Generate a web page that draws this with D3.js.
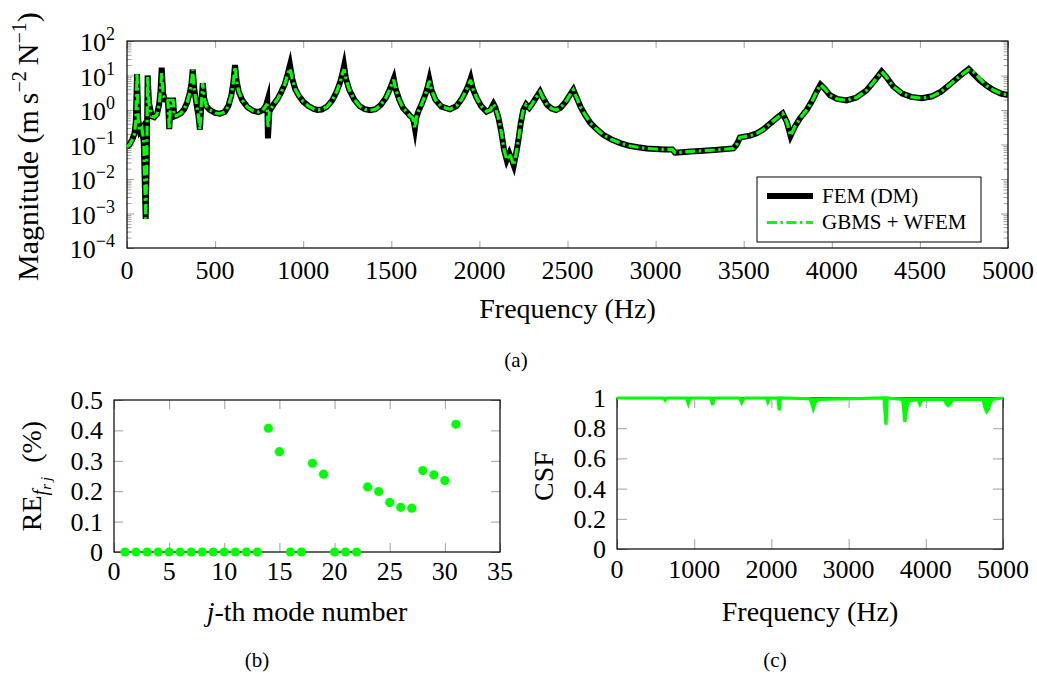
<!DOCTYPE html>
<html><head><meta charset="utf-8">
<script src="https://cdn.jsdelivr.net/npm/d3@7"></script>
<style>
body{margin:0;background:#fff;}
</style></head><body>
<svg id="c" width="1037" height="677" font-family="'Liberation Serif', 'DejaVu Serif', serif"></svg>
<script>
// ---------- data ----------
const frfFreq = [0,15,30,42,50,57,64,74,85,95,106,112,117,125,140,155,170,182,190,197,205,214,232,240,248,262,268,285,305,325,342,357,366,373,382,395,405,414,422,430,438,450,470,500,528,555,575,592,604,613,622,635,655,685,715,745,770,788,796,800,808,830,855,875,895,912,925,938,955,975,1000,1030,1060,1080,1105,1135,1165,1190,1210,1222,1232,1243,1262,1290,1320,1350,1380,1410,1440,1468,1490,1505,1514,1524,1545,1566,1590,1606,1620,1628,1634,1642,1655,1675,1695,1708,1716,1728,1750,1785,1833,1870,1900,1925,1940,1950,1962,1985,2010,2041,2062,2080,2090,2108,2125,2140,2155,2170,2185,2195,2210,2221,2235,2249,2265,2283,2300,2322,2344,2360,2385,2410,2435,2460,2490,2515,2533,2550,2575,2600,2630,2665,2703,2750,2800,2850,2900,2950,3000,3050,3095,3110,3150,3200,3271,3350,3441,3460,3479,3536,3574,3610,3649,3690,3721,3745,3766,3790,3820,3857,3890,3915,3936,3960,3989,4030,4084,4140,4197,4240,4283,4310,4349,4400,4450,4510,4570,4620,4670,4725,4777,4805,4841,4880,4917,4960,5000];
const femMag = [0.085,0.1,0.14,0.2,0.45,11,0.5,0.25,0.3,0.12,0.0007,0.03,10,1.6,0.66,0.62,0.75,1.4,3.5,17,3,2.0,1.9,0.28,1.9,1.9,0.65,0.7,0.8,1.05,1.7,3.2,6,15,4,1.4,0.7,0.27,1.5,6,2.2,1.3,1.0,0.82,0.78,0.88,1.3,2.6,6.5,20,7,3.3,1.9,1.2,0.95,0.87,0.98,1.3,1.8,0.15,0.9,1.4,2.1,3.3,5.5,11,20,8,4,2.6,1.75,1.3,1.07,1.0,1.03,1.25,1.9,3.4,6.5,11,19,8,3.8,2,1.3,1.05,0.98,1.05,1.4,2.2,3.8,6,8,4.2,2.0,1.15,0.85,0.68,0.6,0.45,0.3,0.6,0.95,1.6,3,5,7.5,3.8,2,1.25,1.05,1.3,2.1,3.7,5.6,8,4.2,2.2,1.3,0.9,1.0,1.5,1.2,0.6,0.22,0.07,0.036,0.055,0.035,0.025,0.06,0.13,0.42,1.0,1.45,1.15,1.5,2.3,3.4,2.3,1.4,1.1,1.0,1.15,1.75,2.8,3.9,2.4,1.2,0.72,0.42,0.28,0.19,0.14,0.11,0.092,0.083,0.077,0.074,0.072,0.072,0.058,0.06,0.063,0.066,0.07,0.077,0.1,0.16,0.18,0.21,0.27,0.4,0.6,0.8,0.45,0.18,0.33,0.58,1.0,1.9,3.5,5.4,4.1,2.7,2.1,1.9,2.3,3.7,6.8,13,9,4.8,3,2.4,2.2,2.5,3.4,5.5,9.5,15.5,11,7.2,5,3.8,3.0,2.7];
const wfemMag = [0.085,0.1,0.14,0.2,0.45,12,0.5,0.25,0.3,0.12,0.0007,0.03,9,1.6,0.66,0.62,0.75,1.4,3.5,12,3,2.0,1.9,0.28,1.9,1.9,0.65,0.7,0.8,1.05,1.7,3.2,6,15,4,1.4,0.7,0.27,1.5,6,2.2,1.3,1.0,0.82,0.78,0.88,1.3,2.6,6.5,18,7,3.3,1.9,1.2,0.95,0.87,0.98,1.3,1.5,0.3,0.9,1.4,2.1,3.3,5.5,11,16,8,4,2.6,1.75,1.3,1.07,1.0,1.03,1.25,1.9,3.4,6.5,11,15,8,3.8,2,1.3,1.05,0.98,1.05,1.4,2.2,3.8,6,7.5,4.2,2.0,1.15,0.85,0.68,0.6,0.45,0.3,0.6,0.95,1.6,3,5,7,3.8,2,1.25,1.05,1.3,2.1,3.7,5.6,7.5,4.2,2.2,1.3,0.9,1.0,1.5,1.2,0.6,0.22,0.07,0.036,0.055,0.035,0.025,0.06,0.13,0.42,1.0,1.45,1.15,1.5,2.3,3.4,2.3,1.4,1.1,1.0,1.15,1.75,2.8,3.9,2.4,1.2,0.72,0.42,0.28,0.19,0.14,0.11,0.092,0.083,0.077,0.074,0.072,0.072,0.058,0.06,0.063,0.066,0.07,0.077,0.1,0.16,0.18,0.21,0.27,0.4,0.6,0.8,0.45,0.18,0.33,0.58,1.0,1.9,3.5,5.4,4.1,2.7,2.1,1.9,2.3,3.7,6.8,13,9,4.8,3,2.4,2.2,2.5,3.4,5.5,9.5,15,12.5,8,5,3.8,3.0,2.7];

const modeNumbers = [1,2,3,4,5,6,7,8,9,10,11,12,13,14,15,16,17,18,19,20,21,22,23,24,25,26,27,28,29,30,31];
const relError = [0,0,0,0,0,0,0,0,0,0,0,0,0,0.407,0.330,0,0,0.292,0.256,0,0,0,0.214,0.199,0.163,0.147,0.144,0.268,0.254,0.235,0.420];

const csfFreq = [0,600,622,640,900,924,945,1215,1239,1260,1590,1615,1635,1650,1940,1955,1975,2085,2102,2115,2500,2525,2543,2565,2600,3460,3484,3500,3700,3730,3750,3780,3900,3924,3950,4240,4270,4291,4320,4350,4740,4770,4788,4810,4830,4860,5000];
const csfVals = [1,1,0.985,1,1,0.963,1,1,0.955,1,1,0.97,0.99,1,1,0.975,1,1,0.918,1,0.995,0.96,0.93,0.965,0.99,1,0.824,1,0.99,0.84,0.93,0.98,0.99,0.96,0.99,0.99,0.96,0.95,0.965,0.99,0.99,0.93,0.91,0.925,0.96,0.99,1];

const topXTicks = [0,500,1000,1500,2000,2500,3000,3500,4000,4500,5000];
const topYExps = [-4,-3,-2,-1,0,1,2];
const bXTicks = [0,5,10,15,20,25,30,35];
const bYTicks = [0,0.1,0.2,0.3,0.4,0.5];
const cXTicks = [0,1000,2000,3000,4000,5000];
const cYTicks = [0,0.2,0.4,0.6,0.8,1];
const legendLabels = ["FEM (DM)","GBMS + WFEM"];

// ---------- drawing ----------
const svg = d3.select('#c');
const GREEN = '#00ff00', TICK = '#a0a0a0';
const minus = s => String(s).replace('-', '\u2212');

function ticksInside(g, scale, vals, orient, pos, len){
  let ax;
  if(orient==='bottom') ax = d3.axisBottom(scale);
  if(orient==='top') ax = d3.axisTop(scale);
  if(orient==='left') ax = d3.axisLeft(scale);
  if(orient==='right') ax = d3.axisRight(scale);
  const tr = (orient==='bottom'||orient==='top') ? `translate(0,${pos})` : `translate(${pos},0)`;
  const a = g.append('g').attr('transform', tr)
    .call(ax.tickValues(vals).tickSize(-len).tickFormat(''));
  a.select('.domain').remove();
  a.selectAll('.tick line').attr('stroke', TICK).attr('stroke-width', 1);
  a.selectAll('.tick text').remove();
}

// ===== Panel (a) =====
{
  const L=127,R=1008,T=41,B=248;
  const x = d3.scaleLinear().domain([0,5000]).range([L,R]);
  const y = d3.scaleLog().domain([1e-4,1e2]).range([B,T]);
  const g = svg.append('g');
  const majors = topYExps.map(e => Math.pow(10,e));
  const minors = y.ticks().filter(d => Math.abs(Math.log10(d)-Math.round(Math.log10(d)))>1e-6);
  ticksInside(g, x, topXTicks, 'bottom', B, 7);
  ticksInside(g, x, topXTicks, 'top', T, 7);
  ticksInside(g, y, majors, 'left', L, 7);
  ticksInside(g, y, majors, 'right', R, 7);
  ticksInside(g, y, minors, 'left', L, 4.5);
  ticksInside(g, y, minors, 'right', R, 4.5);
  g.append('rect').attr('x',L).attr('y',T).attr('width',R-L).attr('height',B-T)
    .attr('fill','none').attr('stroke','#000').attr('stroke-width',1.2);

  // tick labels
  g.selectAll('.xl').data(topXTicks).join('text')
    .attr('x', d=>x(d)).attr('y', B+30.5).attr('text-anchor','middle')
    .attr('font-size',26).text(d=>String(d));
  const yl = g.selectAll('.yl').data(topYExps).join('text')
    .attr('x', L-12).attr('y', d=>y(Math.pow(10,d))+10).attr('text-anchor','end')
    .attr('font-size',26);
  yl.append('tspan').text('10');
  yl.append('tspan').attr('dy',-11).attr('font-size',18).text(d=>minus(d));

  // curves
  svg.append('clipPath').attr('id','clipA').append('rect')
    .attr('x',L).attr('y',T-2).attr('width',R-L).attr('height',B-T+4);
  const line = d3.line().x(d=>x(d[0])).y(d=>y(d[1]));
  const pg = svg.append('g').attr('clip-path','url(#clipA)');
  pg.append('path').datum(d3.zip(frfFreq, femMag)).attr('d', line)
    .attr('fill','none').attr('stroke','#000').attr('stroke-width',6)
    .attr('stroke-linejoin','miter').attr('stroke-miterlimit',10);
  pg.append('path').datum(d3.zip(frfFreq, wfemMag)).attr('d', line)
    .attr('fill','none').attr('stroke',GREEN).attr('stroke-width',3.2)
    .attr('stroke-dasharray','10,3.5,2.5,3.5')
    .attr('stroke-linejoin','miter').attr('stroke-miterlimit',3);

  // legend
  const lg = svg.append('g');
  lg.append('rect').attr('x',757).attr('y',177).attr('width',224).attr('height',65)
    .attr('fill','#fff').attr('stroke','#000').attr('stroke-width',1);
  const ly = [196, 222.5];
  lg.append('line').attr('x1',767).attr('x2',813).attr('y1',ly[0]).attr('y2',ly[0])
    .attr('stroke','#000').attr('stroke-width',6);
  lg.append('line').attr('x1',767).attr('x2',813).attr('y1',ly[1]).attr('y2',ly[1])
    .attr('stroke',GREEN).attr('stroke-width',3.2).attr('stroke-dasharray','10,3.5,2.5,3.5');
  lg.selectAll('.lt').data(legendLabels).join('text')
    .attr('x',822).attr('y',(d,i)=>ly[i]+6.5).attr('font-size',21).text(d=>d);

  // axis labels
  svg.append('text').attr('x',567.5).attr('y',318).attr('text-anchor','middle')
    .attr('font-size',28).text('Frequency (Hz)');
  const ylab = svg.append('text').attr('transform','translate(38,281) rotate(-90)')
    .attr('text-anchor','start').attr('font-size',30);
  ylab.append('tspan').text('Magnitude (m\u2009s');
  ylab.append('tspan').attr('dy',-12).attr('font-size',20).text('\u22122');
  ylab.append('tspan').attr('dy',12).text('\u2009N');
  ylab.append('tspan').attr('dy',-12).attr('font-size',20).text('\u22121');
  ylab.append('tspan').attr('dy',12).text(')');
  svg.append('text').attr('x',516).attr('y',367).attr('text-anchor','middle')
    .attr('font-size',21).text('(a)');
}

// ===== Panel (b) =====
{
  const L=114,R=500,T=400,B=552;
  const x = d3.scaleLinear().domain([0,35]).range([L,R]);
  const y = d3.scaleLinear().domain([0,0.5]).range([B,T]);
  const g = svg.append('g');
  ticksInside(g, x, bXTicks, 'bottom', B, 9);
  ticksInside(g, x, bXTicks, 'top', T, 9);
  ticksInside(g, y, bYTicks, 'left', L, 9);
  ticksInside(g, y, bYTicks, 'right', R, 9);
  g.append('rect').attr('x',L).attr('y',T).attr('width',R-L).attr('height',B-T)
    .attr('fill','none').attr('stroke','#000').attr('stroke-width',1.2);
  g.selectAll('.xl').data(bXTicks).join('text')
    .attr('x', d=>x(d)).attr('y', B+28).attr('text-anchor','middle')
    .attr('font-size',26).text(d=>String(d));
  g.selectAll('.yl').data(bYTicks).join('text')
    .attr('x', L-11).attr('y', d=>y(d)+9).attr('text-anchor','end')
    .attr('font-size',26).text(d=>String(d));
  svg.append('g').selectAll('circle').data(d3.zip(modeNumbers, relError)).join('circle')
    .attr('cx', d=>x(d[0])).attr('cy', d=>y(d[1])).attr('r',4.6).attr('fill',GREEN);
  const xl = svg.append('text').attr('x',307).attr('y',621).attr('text-anchor','middle')
    .attr('font-size',28);
  xl.append('tspan').attr('font-style','italic').text('j');
  xl.append('tspan').text('-th mode number');
  const yl = svg.append('text').attr('transform','translate(41,476) rotate(-90)')
    .attr('text-anchor','middle').attr('font-size',28);
  yl.append('tspan').text('RE');
  yl.append('tspan').attr('dy',6).attr('font-size',20).attr('font-style','italic').text('f');
  yl.append('tspan').attr('dy',4).attr('font-size',15).attr('font-style','italic').text('r\u2009j');
  yl.append('tspan').attr('dy',-10).text('\u2002(%)');
  svg.append('text').attr('x',257).attr('y',667).attr('text-anchor','middle')
    .attr('font-size',21).text('(b)');
}

// ===== Panel (c) =====
{
  const L=617,R=1003,T=398,B=549;
  const x = d3.scaleLinear().domain([0,5000]).range([L,R]);
  const y = d3.scaleLinear().domain([0,1]).range([B,T]);
  const g = svg.append('g');
  ticksInside(g, x, cXTicks, 'bottom', B, 10);
  ticksInside(g, x, cXTicks, 'top', T, 10);
  ticksInside(g, y, cYTicks, 'left', L, 10);
  ticksInside(g, y, cYTicks, 'right', R, 10);
  g.append('rect').attr('x',L).attr('y',T).attr('width',R-L).attr('height',B-T)
    .attr('fill','none').attr('stroke','#000').attr('stroke-width',1.2);
  g.selectAll('.xl').data(cXTicks).join('text')
    .attr('x', d=>x(d)).attr('y', B+29).attr('text-anchor','middle')
    .attr('font-size',26).text(d=>String(d));
  g.selectAll('.yl').data(cYTicks).join('text')
    .attr('x', L-11).attr('y', d=>y(d)+9).attr('text-anchor','end')
    .attr('font-size',26).text(d=>String(d));
  const pts = d3.zip(csfFreq, csfVals);
  svg.append('path').datum(pts)
    .attr('d', d3.area().x(d=>x(d[0])).y0(y(1)).y1(d=>y(d[1])))
    .attr('fill',GREEN);
  svg.append('path').datum(pts)
    .attr('d', d3.line().x(d=>x(d[0])).y(d=>y(d[1])))
    .attr('fill','none').attr('stroke',GREEN).attr('stroke-width',3.2);
  svg.append('text').attr('x',810).attr('y',621).attr('text-anchor','middle')
    .attr('font-size',28).text('Frequency (Hz)');
  svg.append('text').attr('transform','translate(553,476) rotate(-90)')
    .attr('text-anchor','middle').attr('font-size',28).text('CSF');
  svg.append('text').attr('x',775).attr('y',667).attr('text-anchor','middle')
    .attr('font-size',21).text('(c)');
}
</script>
</body></html>
